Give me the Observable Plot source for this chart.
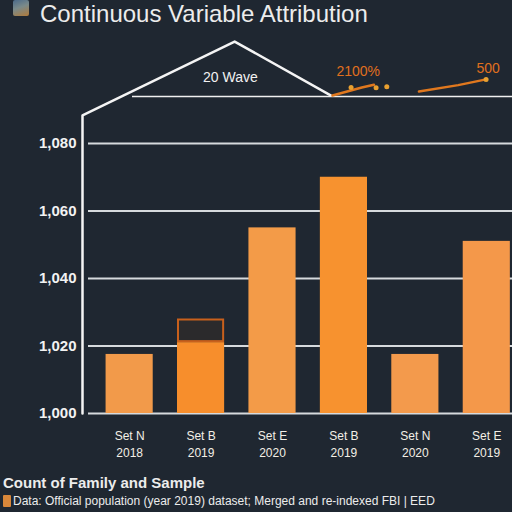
<!DOCTYPE html>
<html>
<head>
<meta charset="utf-8">
<script src="https://cdn.jsdelivr.net/npm/d3@7"></script>
<script src="https://cdn.jsdelivr.net/npm/@observablehq/plot@0.6"></script>
<style>
  html, body { margin: 0; padding: 0; background: #1f2731; overflow: hidden; }
  body { width: 512px; height: 512px; font-family: "Liberation Sans", Arial, sans-serif; color: #ececec; }
  #title { height: 28px; line-height: 27px; font-size: 24px; padding-left: 13px; white-space: nowrap; display: flex; align-items: flex-start; }
  #title .icon { display: inline-block; width: 16px; height: 16px; margin-right: 11px; margin-top: 0; border-radius: 2px;
    background: linear-gradient(160deg, #4a6a8a 0%, #7a8a8a 45%, #b07a3a 100%); }
  #chart svg { display: block; }
  #caption { padding-left: 3px; }
  #caption .l1 { font-size: 15px; font-weight: bold; line-height: 18px; margin-top: 8px; }
  #caption .l2 { font-size: 12px; line-height: 18px; white-space: nowrap; display: flex; align-items: center; }
  #caption .l2 .icon { display: inline-block; width: 8px; height: 12px; background: #d9873a; margin-right: 2px; border-radius: 1px; }
</style>
</head>
<body>
<div id="title"><span class="icon"></span>Continuous Variable Attribution</div>
<div id="chart"></div>
<div id="caption">
  <div class="l1">Count of Family and Sample</div>
  <div class="l2"><span class="icon"></span>Data: Official population (year 2019) dataset; Merged and re-indexed FBI | EED</div>
</div>
<script>
// ---- data ----
const categories = ["Set N\n2018", "Set B\n2019", "Set E\n2020", "Set B\n2019", "Set N\n2020", "Set E\n2019"];
const positions  = [0, 1, 2, 3, 4, 5];
const values     = [1017.5, 1021, 1055, 1070, 1017.5, 1051];
const barColors  = ["#f29a4a", "#f78e2c", "#f39b48", "#f7922f", "#f39a4c", "#f4984a"];
const capLow     = [1021];
const capHigh    = [1028];
const capPos     = [1];
const yTicks     = [1000, 1020, 1040, 1060, 1080];

// annotation envelope (white) over the chart
const envX = [-0.66, -0.66, 1.47, 2.82];
const envY = [1000, 1088.3, 1110.2, 1094.2];
// thin reference rule
const refRuleY = [1093.9];
const refRuleX1 = [0.04];
const refRuleX2 = [5.36];
// orange trend segments
const trendX = [2.84, 3.25, 3.42, 4.05, 4.6, 4.99];
const trendY = [1094.2, 1096.6, 1097.4, 1095.4, 1097.3, 1099.0];
const trendSeg = ["a", "a", "a", "b", "b", "b"];
const dotX = [3.1, 3.45, 3.6, 4.99];
const dotY = [1096.6, 1096.5, 1096.8, 1099.0];
// annotation labels
const noteText = ["20 Wave", "2100%", "500"];
const noteX = [1.41, 3.2, 5.02];
const noteY = [1099.6, 1101.2, 1102.3];
const noteColor = ["#f2f2f2", "#e0701e", "#e0701e"];

// ---- build tables ----
const bars = positions.map((p, i) => ({pos: p, value: values[i], color: barColors[i], label: categories[i]}));
const caps = capPos.map((p, i) => ({pos: p, lo: capLow[i], hi: capHigh[i]}));
const env = envX.map((x, i) => ({x, y: envY[i]}));
const trend = trendX.map((x, i) => ({x, y: trendY[i], seg: trendSeg[i]}));
const dots = dotX.map((x, i) => ({x, y: dotY[i]}));
const notes = noteText.map((t, i) => ({t, x: noteX[i], y: noteY[i], c: noteColor[i]}));
const rules = refRuleY.map((y, i) => ({y, x1: refRuleX1[i], x2: refRuleX2[i]}));
const halfW = 0.33;

const chart = Plot.plot({
  width: 512,
  height: 438,
  marginLeft: 82,
  marginRight: 0,
  marginTop: 0,
  marginBottom: 0,
  style: {background: "#1f2731", color: "#f0f0f0", fontFamily: "Liberation Sans, Arial, sans-serif", overflow: "visible"},
  x: {type: "linear", domain: [-0.66, 5.36], range: [82, 512], axis: null},
  y: {domain: [1000, 1080], range: [385, 115], axis: null},
  marks: [
    Plot.ruleY(yTicks, {stroke: "#d6dadd", strokeWidth: 2, insetLeft: 6}),
    Plot.axisY(yTicks, {anchor: "left", tickSize: 0, tickPadding: 6, tickFormat: d3.format(","),
      fontSize: 15, fontWeight: "bold", fill: "#f2f2f2", label: null}),
    Plot.rectY(bars, {x1: d => d.pos - halfW, x2: d => d.pos + halfW, y1: 1000, y2: "value", fill: "color"}),
    Plot.rectY(caps, {x1: d => d.pos - halfW, x2: d => d.pos + halfW, y1: "lo", y2: "hi",
      fill: "#2b2a2c", stroke: "#c8601c", strokeWidth: 2, inset: 1}),
    Plot.text(bars, {x: "pos", y: 1000, text: "label", dy: 14, lineAnchor: "top", fontSize: 12,
      fill: "#f3efe6", lineHeight: 1.45}),
    Plot.line(env, {x: "x", y: "y", stroke: "#f4f4f4", strokeWidth: 2.5, curve: "linear"}),
    Plot.ruleY(rules, {y: "y", x1: "x1", x2: "x2", stroke: "#f0f0f0", strokeWidth: 1.5}),
    Plot.line(trend, {x: "x", y: "y", z: "seg", stroke: "#e0781e", strokeWidth: 2.5}),
    Plot.dot(dots, {x: "x", y: "y", r: 2.5, fill: "#e8a030"}),
    Plot.text(notes, {x: "x", y: "y", text: "t", fill: "c", fontSize: 14, fontWeight: d => d.c === "#f2f2f2" ? "normal" : "bold"})
  ]
});
document.getElementById("chart").appendChild(chart);
</script>
</body>
</html>
